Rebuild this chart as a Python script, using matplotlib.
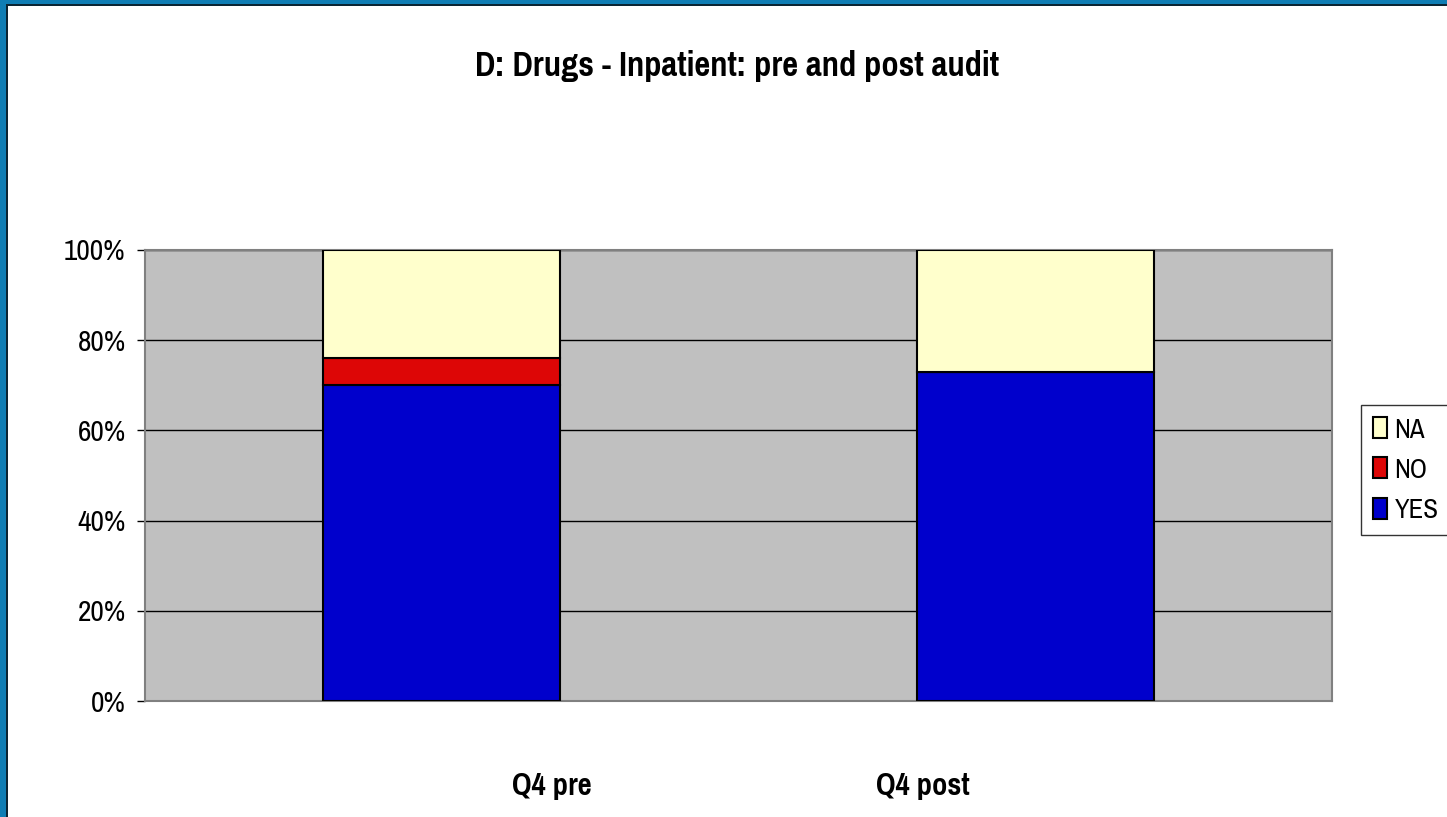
import numpy as np
import matplotlib
matplotlib.use("Agg")
import matplotlib.pyplot as plt
from matplotlib.patches import Rectangle

plt.rcParams['font.family'] = ['Liberation Sans Narrow', 'Pragati Narrow', 'Archivo Narrow',
                               'Roboto Condensed', 'Liberation Sans', 'DejaVu Sans']

# data (percent of audited items)
categories = ["Q4 pre", "Q4 post"]
yes = [70, 73]
no = [6, 0]
na = [24, 27]

W, H = 1447, 817
fig = plt.figure(figsize=(W / 100, H / 100), dpi=100)
fig.patch.set_facecolor("white")

# slide border (blue strip top and left, dark edge line)
fig.patches.append(Rectangle((0, 0), 6 / W, 1, transform=fig.transFigure,
                             facecolor="#0f7db4", edgecolor="none", zorder=0))
fig.patches.append(Rectangle((0, 1 - 4 / H), 1, 4 / H, transform=fig.transFigure,
                             facecolor="#0f7db4", edgecolor="none", zorder=0))
fig.patches.append(Rectangle((6 / W, 0), 2 / W, 1 - 4 / H, transform=fig.transFigure,
                             facecolor="#0b2533", edgecolor="none", zorder=0))
fig.patches.append(Rectangle((6 / W, 1 - 6 / H), 1, 2 / H, transform=fig.transFigure,
                             facecolor="#0b2533", edgecolor="none", zorder=0))

ax = fig.add_axes([145 / W, 1 - 701 / H, (1332 - 145) / W, (701 - 250) / H])
ax.set_facecolor("#c0c0c0")

x = np.arange(len(categories))
w = 0.4
ax.bar(x, yes, w, color="#0000cc", edgecolor="black", linewidth=1.5, label="YES", zorder=3)
ax.bar(x, no, w, bottom=yes, color="#dd0606", edgecolor="black", linewidth=1.5, label="NO", zorder=3)
ax.bar(x, na, w, bottom=np.array(yes) + np.array(no), color="#ffffcc",
       edgecolor="black", linewidth=1.5, label="NA", zorder=3)

ax.set_xlim(-0.5, 1.5)
ax.set_ylim(0, 100)
ax.set_yticks(range(0, 101, 20))
ax.set_yticklabels(["%d%%" % v for v in range(0, 101, 20)], fontsize=23)
ax.yaxis.grid(True, color="black", linewidth=1)
ax.set_axisbelow(True)
ax.set_xticks([])
ax.tick_params(axis="y", length=6, width=1, pad=8)
for s in ax.spines.values():
    s.set_color("#808080")
    s.set_linewidth(1.5)

# category labels sit offset from the bars as in the original
label_x = [552, 923]
for lx, c in zip(label_x, categories):
    fig.text(lx / W, 1 - 795 / H, c, ha="center", va="baseline", fontsize=24, fontweight="bold")

fig.text(737 / W, 1 - 76 / H, "D: Drugs - Inpatient: pre and post audit",
         ha="center", va="baseline", fontsize=27, fontweight="bold")

h, l = ax.get_legend_handles_labels()
leg = fig.legend(h[::-1], l[::-1], loc="upper left", bbox_to_anchor=(1361 / W, 1 - 405 / H),
                 fontsize=21, frameon=True, fancybox=False, edgecolor="black",
                 handlelength=0.5, handleheight=0.75, handletextpad=0.25,
                 borderpad=0.4, labelspacing=0.5, borderaxespad=0)
leg.get_frame().set_linewidth(1)

fig.savefig("out.png", dpi=100)
